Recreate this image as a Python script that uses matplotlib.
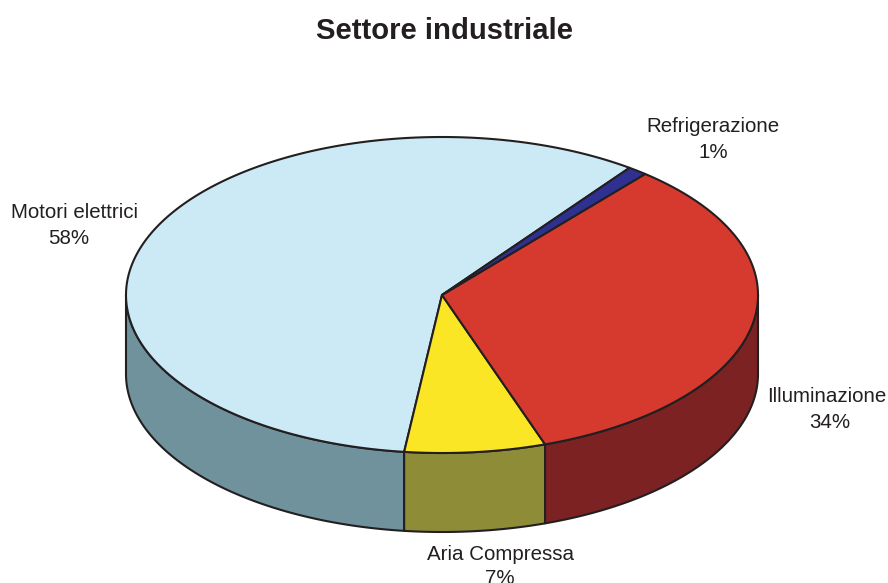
import numpy as np
import matplotlib
matplotlib.use('Agg')
import matplotlib.pyplot as plt
from matplotlib.patches import Polygon

title = "Settore industriale"
categories = ['Motori elettrici', 'Aria Compressa', 'Illuminazione', 'Refrigerazione']
# read from the slice edges, the labels show them rounded
values = [58.2, 7.2, 33.6, 1.0]
top_colors = ['#cbeaf5', '#fbe625', '#d63a2e', '#2e3192']
side_colors = ['#6f929c', '#8f8c38', '#7d2222', '#1c1e5c']
name_pos = [(74.5, 212), (500.5, 554), (826.5, 396), (712.5, 127)]
pct_pos = [(69, 238), (500, 578), (829.5, 422), (713, 152)]

# pie geometry in pixels
cx, cy = 442, 295
rx, ry = 316, 158
depth = 79
start = 53.6
edge = '#231f20'

plt.rcParams['font.family'] = ['Liberation Sans', 'DejaVu Sans']

def arc(a0, a1, dy=0):
    t = np.radians(np.linspace(a0, a1, 200))
    return np.column_stack([cx + rx*np.cos(t), cy - ry*np.sin(t) + dy])

def main():
    fig = plt.figure(figsize=(8.88, 5.83), dpi=100)
    ax = fig.add_axes([0, 0, 1, 1])
    ax.set_xlim(0, 888)
    ax.set_ylim(583, 0)
    ax.axis('off')

    # slices run counter clockwise from the top right
    a0 = start
    spans = []
    for v in values:
        a1 = a0 + v/sum(values)*360
        spans.append((a0, a1))
        a0 = a1

    # side walls, only the front half (180..360) is visible
    for (a0, a1), c in zip(spans, side_colors):
        for off in (0, 360, -360):
            lo = max(a0 + off, 180)
            hi = min(a1 + off, 360)
            if hi > lo:
                pts = np.vstack([arc(lo, hi), arc(hi, lo, depth)])
                ax.add_patch(Polygon(pts, closed=True, fc=c, ec=edge, lw=1.5, joinstyle='round'))

    for (a0, a1), c in zip(spans, top_colors):
        pts = np.vstack([[cx, cy], arc(a0, a1)])
        ax.add_patch(Polygon(pts, closed=True, fc=c, ec=edge, lw=1.5, joinstyle='round'))

    for name, v, (x, y), (px, py) in zip(categories, values, name_pos, pct_pos):
        ax.text(x, y, name, ha='center', va='center', fontsize=14.8, color='#231f20')
        ax.text(px, py, f"{v:.0f}%", ha='center', va='center', fontsize=14.8, color='#231f20')

    ax.text(444.5, 31, title, ha='center', va='center', fontsize=21.1,
            fontweight='bold', color='#231f20')

    fig.savefig('out.png', dpi=100)

main()
